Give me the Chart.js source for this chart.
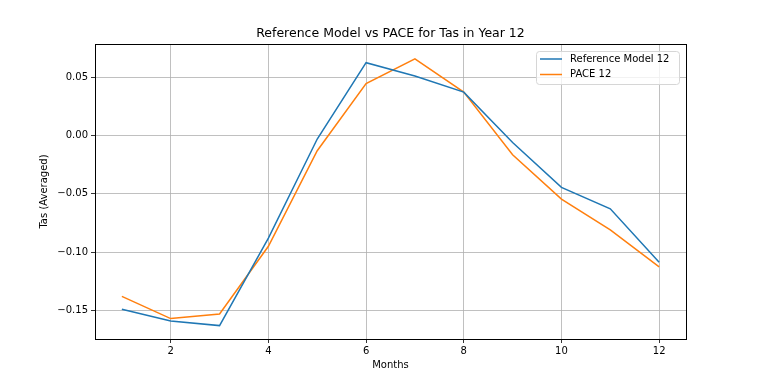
<!DOCTYPE html>
<html>
<head>
<meta charset="utf-8">
<script src="https://cdn.jsdelivr.net/npm/chart.js@4"></script>
<style>
  html, body { margin: 0; padding: 0; background: #fff; }
  #wrap { width: 761px; height: 381px; }
</style>
</head>
<body>
<div id="wrap"><canvas id="chart" width="761" height="381"></canvas></div>
<script>
const months = [1, 2, 3, 4, 5, 6, 7, 8, 9, 10, 11, 12];
const referenceModel = [-0.149, -0.159, -0.163, -0.088, -0.003, 0.0625, 0.051, 0.0372, -0.006, -0.0445, -0.0628, -0.1087];
const pace = [-0.138, -0.157, -0.153, -0.095, -0.013, 0.0445, 0.0657, 0.0372, -0.0165, -0.0545, -0.081, -0.1127];
const xTicks = [2, 4, 6, 8, 10, 12];
const yTicks = [-0.15, -0.10, -0.05, 0.00, 0.05];
const chartTitle = 'Reference Model vs PACE for Tas in Year 12';

const font = 'DejaVu Sans';

// frame, title and legend drawn the matplotlib way
const mplFrame = {
  id: 'mplFrame',
  afterDraw(chart) {
    const { ctx, chartArea: a } = chart;
    ctx.save();
    ctx.strokeStyle = '#000';
    ctx.lineWidth = 1;
    ctx.strokeRect(Math.round(a.left) + 0.5, Math.round(a.top) + 0.5,
      Math.round(a.right - a.left), Math.round(a.bottom - a.top));

    // title centred over the axes
    ctx.fillStyle = '#000';
    ctx.font = '12.5px ' + font;
    ctx.textAlign = 'center';
    ctx.textBaseline = 'middle';
    ctx.fillText(chartTitle, (a.left + a.right) / 2, a.top - 10);

    // legend box, upper right
    const bw = 143, bh = 33;
    const bx = a.right - bw - 7, by = a.top + 7;
    ctx.beginPath();
    ctx.roundRect(bx + 0.5, by + 0.5, bw, bh, 3);
    ctx.fillStyle = 'rgba(255,255,255,0.8)';
    ctx.fill();
    ctx.strokeStyle = '#d6d6d6';
    ctx.stroke();
    ctx.font = '10px ' + font;
    ctx.textAlign = 'left';
    ctx.textBaseline = 'middle';
    chart.data.datasets.forEach((ds, i) => {
      const y = by + 8 + i * 15.5;
      ctx.strokeStyle = ds.borderColor;
      ctx.lineWidth = 1.5;
      ctx.beginPath();
      ctx.moveTo(bx + 4, y);
      ctx.lineTo(bx + 26, y);
      ctx.stroke();
      ctx.fillStyle = '#000';
      ctx.fillText(ds.label, bx + 34, y);
    });
    ctx.restore();
  }
};

new Chart(document.getElementById('chart'), {
  type: 'line',
  data: {
    datasets: [
      {
        label: 'Reference Model 12',
        data: months.map((m, i) => ({ x: m, y: referenceModel[i] })),
        borderColor: '#1f77b4',
        borderWidth: 1.5,
        pointRadius: 0,
        tension: 0
      },
      {
        label: 'PACE 12',
        data: months.map((m, i) => ({ x: m, y: pace[i] })),
        borderColor: '#ff7f0e',
        borderWidth: 1.5,
        pointRadius: 0,
        tension: 0
      }
    ]
  },
  options: {
    responsive: false,
    animation: false,
    layout: { padding: { left: 38, right: 75, top: 44, bottom: 10 } },
    plugins: {
      legend: { display: false },
      tooltip: { enabled: false },
      title: { display: false }
    },
    scales: {
      x: {
        type: 'linear',
        min: 0.45,
        max: 12.55,
        afterBuildTicks: (s) => { s.ticks = xTicks.map(v => ({ value: v })); },
        afterFit: (s) => { s.height = 32; },
        grid: { color: '#b0b0b0', lineWidth: 0.8, tickColor: '#000', tickLength: 4 },
        border: { display: true, color: '#000' },
        ticks: { color: '#000', font: { family: font, size: 10 }, padding: 2, maxRotation: 0 },
        title: { display: true, text: 'Months', color: '#000', font: { family: font, size: 10 }, padding: { top: 0, bottom: 0 } }
      },
      y: {
        min: -0.1745,
        max: 0.0785,
        afterBuildTicks: (s) => { s.ticks = yTicks.map(v => ({ value: v })); },
        afterFit: (s) => { s.width = 57; },
        grid: { color: '#b0b0b0', lineWidth: 0.8, tickColor: '#000', tickLength: 4 },
        border: { display: true, color: '#000' },
        ticks: {
          color: '#000', font: { family: font, size: 10 }, padding: 3,
          callback: (v) => (v < 0 ? '\u2212' + Math.abs(v).toFixed(2) : v.toFixed(2))
        },
        title: { display: true, text: 'Tas (Averaged)', color: '#000', font: { family: font, size: 10 }, padding: { top: 0, bottom: 0 } }
      }
    }
  },
  plugins: [mplFrame]
});
</script>
</body>
</html>
